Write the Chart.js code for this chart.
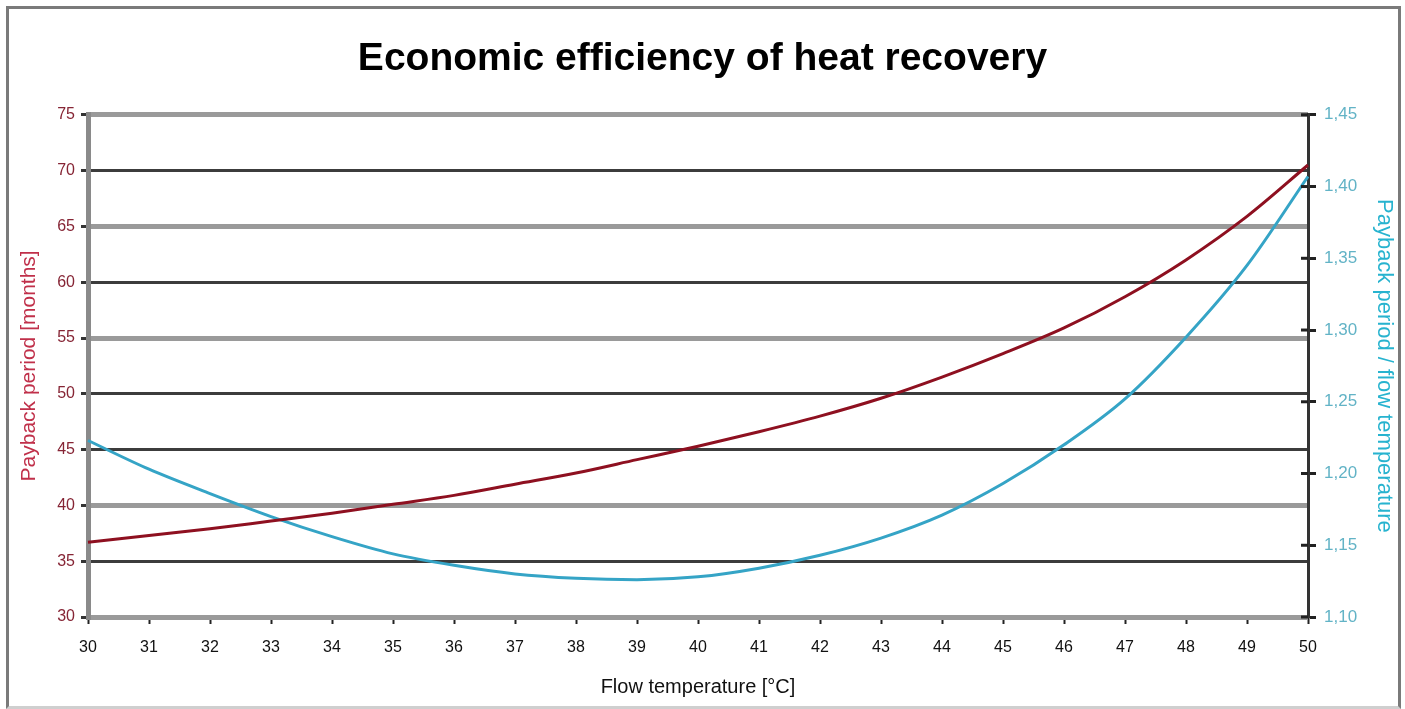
<!DOCTYPE html>
<html>
<head>
<meta charset="utf-8">
<title>Economic efficiency of heat recovery</title>
<script src="https://cdn.jsdelivr.net/npm/chart.js@4.4.1/dist/chart.umd.min.js"></script>
<style>
  html, body { margin: 0; padding: 0; background: #fff; }
  #wrap { position: relative; width: 1405px; height: 709px; overflow: hidden; }
  #frame {
    position: absolute; left: 6px; top: 6px; width: 1389px; height: 697px;
    border: 3px solid #7a7a7a; border-bottom-color: #cfcfcf;
    pointer-events: none;
  }
</style>
</head>
<body>
<div id="wrap">
  <canvas id="heatChart"></canvas>
  <div id="frame"></div>
</div>
<script>
// --- DATA ---
const flowTemps = ['30', '31', '32', '33', '34', '35', '36', '37', '38', '39', '40',
                   '41', '42', '43', '44', '45', '46', '47', '48', '49', '50'];

// payback period in months (left axis)
const paybackMonths = [36.7, 37.3, 37.9, 38.6, 39.3, 40.1, 40.9, 41.9, 42.9, 44.1, 45.3,
                       46.6, 48.0, 49.6, 51.5, 53.6, 55.9, 58.7, 62.0, 65.9, 70.5];

// payback period / flow temperature (right axis)
const paybackPerTemp = [1.223, 1.203, 1.186, 1.170, 1.156, 1.144, 1.136, 1.130, 1.127, 1.126, 1.128,
                        1.134, 1.143, 1.155, 1.171, 1.193, 1.220, 1.252, 1.295, 1.345, 1.407];

const monthsRange = [30, 75];
const ratioRange = [1.10, 1.45];

// --- STYLE ---
const FONT = "'Liberation Sans', Arial, sans-serif";
const lightGridValues = [75, 65, 55, 40, 30];   // these gridlines come out paler/thicker in the picture

// short tick marks on the inner side of the right axis too (Excel draws them across)
const crossTicks = {
    id: 'crossTicks',
    afterDatasetsDraw(chart) {
        const s = chart.scales.yRatio;
        const c = chart.ctx;
        c.save();
        c.strokeStyle = '#222';
        c.lineWidth = 3;
        s.ticks.forEach(t => {
            const y = s.getPixelForValue(t.value);
            c.beginPath();
            c.moveTo(s.left - 7, y);
            c.lineTo(s.left, y);
            c.stroke();
        });
        c.restore();
    }
};

// --- CHART ---
const ctx = document.getElementById('heatChart').getContext('2d');
const heatChart = new Chart(ctx, {
    type: 'line',
    data: {
        labels: flowTemps,
        datasets: [
            {
                label: 'Payback period [months]',
                data: paybackMonths,
                yAxisID: 'yMonths',
                borderColor: '#8e1020',
                borderWidth: 3,
                pointRadius: 0,
                cubicInterpolationMode: 'monotone',
                fill: false
            },
            {
                label: 'Payback period / flow temperature',
                data: paybackPerTemp,
                yAxisID: 'yRatio',
                borderColor: '#35a4c6',
                borderWidth: 3,
                pointRadius: 0,
                cubicInterpolationMode: 'monotone',
                fill: false
            }
        ]
    },
    options: {
        responsive: true,
        maintainAspectRatio: false,
        animation: false,
        layout: { padding: 0 },
        plugins: {
            legend: { display: false },
            tooltip: { enabled: false },
            title: {
                display: true,
                text: 'Economic efficiency of heat recovery',
                color: '#000',
                font: { family: FONT, size: 39, weight: 'bold' },
                padding: { top: 36, bottom: 32 }
            }
        },
        scales: {
            x: {
                grid: {
                    drawOnChartArea: false,
                    tickLength: 7,
                    tickColor: '#222',
                    tickWidth: 2
                },
                border: { display: false },
                ticks: {
                    color: '#111',
                    padding: 14,
                    maxRotation: 0,
                    autoSkip: false,
                    font: { family: FONT, size: 16 }
                },
                title: {
                    display: true,
                    text: 'Flow temperature [°C]',
                    color: '#111',
                    font: { family: FONT, size: 20 },
                    padding: { top: 0, bottom: 10 }
                },
                afterFit: function(scale) { scale.height = 92; }
            },
            yMonths: {
                position: 'left',
                min: monthsRange[0],
                max: monthsRange[1],
                ticks: {
                    stepSize: 5,
                    color: '#862535',
                    padding: 6,
                    font: { family: FONT, size: 16 }
                },
                grid: {
                    color: c => lightGridValues.includes(c.tick.value) ? '#9a9a9a' : '#3c3c3c',
                    lineWidth: c => lightGridValues.includes(c.tick.value) ? 5 : 3,
                    tickLength: 7,
                    tickColor: '#333',
                    tickWidth: 3
                },
                border: { color: '#8a8a8a', width: 5 },
                title: {
                    display: true,
                    text: 'Payback period [months]',
                    color: '#c0304a',
                    font: { family: FONT, size: 21 },
                    padding: { top: 17, bottom: 0 }
                },
                afterFit: function(scale) { scale.width = 88; }
            },
            yRatio: {
                position: 'right',
                min: ratioRange[0],
                max: ratioRange[1],
                ticks: {
                    stepSize: 0.05,
                    color: '#62b3c6',
                    padding: 8,
                    font: { family: FONT, size: 17 },
                    callback: v => v.toFixed(2).replace('.', ',')
                },
                grid: {
                    drawOnChartArea: false,
                    tickLength: 8,
                    tickColor: '#222',
                    tickWidth: 3
                },
                border: { color: '#333', width: 3 },
                title: {
                    display: true,
                    text: 'Payback period / flow temperature',
                    color: '#27b3cf',
                    font: { family: FONT, size: 22 },
                    padding: { top: 8, bottom: 0 }
                },
                afterFit: function(scale) { scale.width = 97; }
            }
        }
    },
    plugins: [crossTicks]
});
</script>
</body>
</html>
